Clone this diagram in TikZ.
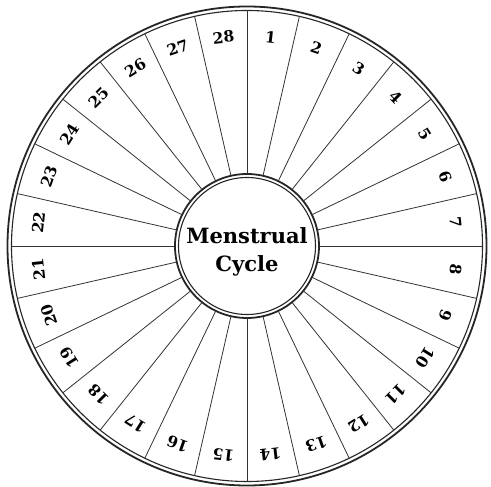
\documentclass[tikz,border=0pt]{standalone}
\usepackage{fontspec}
\setmainfont{DejaVu Serif}
\tikzset{
  ringthick/.style={line width=1.8pt, draw=black!85},
  ringthin/.style={line width=1.1pt, draw=black!85},
  spoke/.style={line width=0.8pt, draw=black!80},
  daynum/.style={font=\fontsize{15.5}{15.5}\selectfont\bfseries, inner sep=0pt},
  title/.style={font=\fontsize{21}{28}\selectfont\bfseries, align=center, inner sep=0pt}
}
\begin{document}
\begin{tikzpicture}[x=1pt,y=1pt]
\useasboundingbox[fill=white] (-247,-241) rectangle (244,246);
% outer double ring
\draw[ringthick] (0,0) circle (239.5);
\draw[ringthin] (0,0) circle (235.5);
% inner double ring
\draw[ringthick] (0,0) circle (72);
\draw[ringthin] (0,0) circle (68.5);
% spokes
\foreach \k in {0,...,27}{
  \pgfmathsetmacro{\a}{90-\k*360/28}
  \draw[spoke] (\a:72.5) -- (\a:235.5);
}
% day numbers
\foreach \i in {1,...,28}{
  \pgfmathsetmacro{\a}{90-(\i-0.5)*360/28}
  \pgfmathsetmacro{\r}{\a-90}
  \node[daynum, rotate=\r] (d\i) at (\a:210) {\i};
}
\node[title] (center) at (0,-6) {Menstrual\\Cycle};
\end{tikzpicture}
\end{document}
